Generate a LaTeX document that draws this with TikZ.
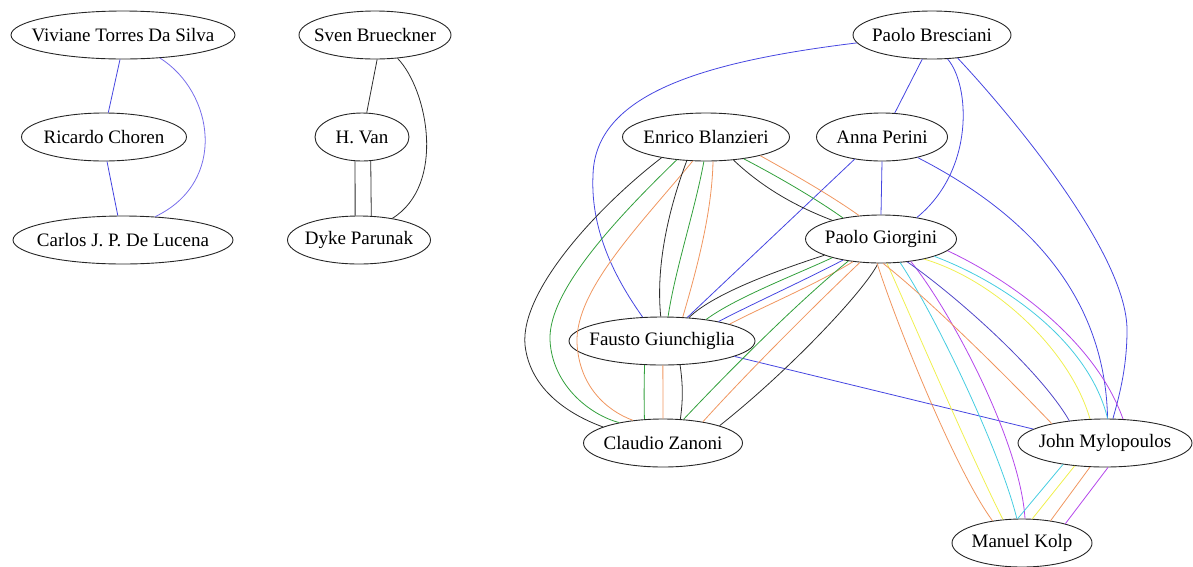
\documentclass[tikz,border=0pt]{standalone}
\usepackage{fontspec}
\setmainfont{Liberation Serif}
\usetikzlibrary{shapes.geometric}
\definecolor{cb}{RGB}{70,70,225}
\definecolor{cbl}{RGB}{120,110,235}
\definecolor{cg}{RGB}{50,160,60}
\definecolor{co}{RGB}{240,150,95}
\definecolor{cy}{RGB}{240,240,80}
\definecolor{cc}{RGB}{70,205,225}
\definecolor{cp}{RGB}{180,70,235}
\definecolor{ci}{RGB}{80,70,200}
\definecolor{ck}{RGB}{45,45,45}
\newcommand{\pname}[1]{\makebox[0pt][c]{#1}}
\tikzset{
  person/.style={draw=black!85, ellipse, line width=0.9pt, inner sep=0pt,
    minimum height=48pt, font=\fontsize{19}{22}\selectfont},
  lnk/.style={line width=0.8pt, draw=ck},
  lnb/.style={line width=0.8pt, draw=cb},
  lnbl/.style={line width=0.8pt, draw=cbl},
  lng/.style={line width=0.8pt, draw=cg},
  lno/.style={line width=0.8pt, draw=co},
  lny/.style={line width=0.8pt, draw=cy},
  lnc/.style={line width=0.8pt, draw=cc},
  lnp/.style={line width=0.8pt, draw=cp},
  lni/.style={line width=0.8pt, draw=ci},
}
\begin{document}
\begin{tikzpicture}[x=1pt,y=-1pt]
\useasboundingbox (0,0) rectangle (1193,566);
% nodes
\node[person, minimum width=224pt] (viv) at (123,35) {\pname{Viviane Torres Da Silva}};
\node[person, minimum width=165pt] (ric) at (104,137) {\pname{Ricardo Choren}};
\node[person, minimum width=220pt] (car) at (123,240) {\pname{Carlos J. P. De Lucena}};
\node[person, minimum width=152pt] (sve) at (375,35) {\pname{Sven Brueckner}};
\node[person, minimum width=94pt] (van) at (362,137) {\pname{H. Van}};
\node[person, minimum width=143pt] (dyk) at (359,240) {\pname{Dyke Parunak}};
\node[person, minimum width=158pt] (bre) at (932,35) {\pname{Paolo Bresciani}};
\node[person, minimum width=167pt] (enr) at (706,137) {\pname{Enrico Blanzieri}};
\node[person, minimum width=131pt] (ann) at (882,137) {\pname{Anna Perini}};
\node[person, minimum width=151pt] (gio) at (881,239) {\pname{Paolo Giorgini}};
\node[person, minimum width=186pt] (fau) at (662,341) {\pname{Fausto Giunchiglia}};
\node[person, minimum width=159pt] (cla) at (663,443) {\pname{Claudio Zanoni}};
\node[person, minimum width=174pt] (joh) at (1105,443) {\pname{John Mylopoulos}};
\node[person, minimum width=140pt] (kol) at (1022,543) {\pname{Manuel Kolp}};
% left cluster
\draw[lnb] (viv.-97) -- (ric.80);
\draw[lnb] (ric.-83) -- (car.102);
\draw[lnbl] (viv.-32) .. controls (214,92) and (228,182) .. (car.36);
% middle cluster
\draw[lnk] (sve.-85) -- (van.79);
\draw[lnk] (van.-106) -- (dyk.99);
\draw[lnk] (van.-70) -- (dyk.63);
\draw[lnk] (sve.-46) .. controls (428,90) and (446,185) .. (dyk.33);
% Bresciani
\draw[lnb] (bre.-174) .. controls (700,62) and (595,95) .. (593,175) .. controls (590,235) and (620,285) .. (fau.129);
\draw[lnb] (bre.-112) -- (ann.62);
\draw[lnb] (bre.-57) .. controls (970,85) and (975,170) .. (gio.31);
\draw[lnb] (bre.-42) .. controls (1000,103) and (1127,250) .. (1127,330) .. controls (1127,370) and (1118,400) .. (joh.72);
% Anna
\draw[lnb] (ann.south) -- (gio.north);
\draw[lnb] (ann.-141) -- (fau.43);
\draw[lnb] (ann.-30) .. controls (1020,210) and (1105,290) .. (joh.84);
% Fausto - John
\draw[lnb] (fau.-12) -- (joh.169);
% Enrico - Claudio
\draw[lnk] (enr.-155) .. controls (600,205) and (520,290) .. (525,345) .. controls (530,390) and (570,415) .. (cla.165);
\draw[lng] (enr.-142) .. controls (620,215) and (548,290) .. (550,340) .. controls (552,385) and (590,415) .. (cla.155);
\draw[lno] (enr.-119) .. controls (640,225) and (575,290) .. (577,343) .. controls (579,385) and (605,410) .. (cla.143);
% Enrico - Fausto
\draw[lnk] (enr.-129) .. controls (672,200) and (655,260) .. (fau.93);
\draw[lng] (enr.-95) .. controls (695,210) and (675,270) .. (fau.76);
\draw[lno] (enr.-74) .. controls (712,215) and (695,275) .. (fau.49);
% Enrico - Giorgini
\draw[lnk] (enr.-40) .. controls (765,190) and (800,208) .. (gio.159);
\draw[lng] (enr.-30) .. controls (775,175) and (815,198) .. (gio.151);
\draw[lno] (enr.-19) .. controls (795,175) and (830,195) .. (gio.133);
% Giorgini - Fausto
\draw[lnk] (gio.-164) .. controls (785,268) and (715,292) .. (fau.41);
\draw[lng] (gio.-159) .. controls (795,275) and (735,298) .. (fau.26);
\draw[lnb] (gio.-151) .. controls (805,280) and (750,305) .. (fau.19);
\draw[lno] (gio.-141) .. controls (815,285) and (760,308) .. (fau.14);
% Fausto - Claudio
\draw[lng] (fau.-126) .. controls (644,385) and (644,400) .. (cla.128);
\draw[lno] (fau.-88) -- (cla.90);
\draw[lnk] (fau.-53) .. controls (683,385) and (683,400) .. (cla.54);
% Giorgini - Claudio
\draw[lng] (gio.-146) .. controls (800,300) and (730,370) .. (cla.49);
\draw[lno] (gio.-132) .. controls (815,305) and (745,375) .. (cla.28);
\draw[lnk] (gio.-97) .. controls (865,290) and (790,370) .. (cla.17);
% Giorgini - Kolp
\draw[lno] (gio.-99) .. controls (895,320) and (955,470) .. (kol.143);
\draw[lny] (gio.-76) .. controls (910,315) and (975,465) .. (kol.129);
\draw[lnc] (gio.-51) .. controls (935,315) and (1000,450) .. (kol.102);
\draw[lnp] (gio.-37) .. controls (950,310) and (1020,440) .. (kol.83);
% Giorgini - John
\draw[lno] (gio.-85) .. controls (930,300) and (1010,380) .. (joh.160);
\draw[lni] (gio.-41) .. controls (955,295) and (1040,370) .. (joh.148);
\draw[lny] (gio.-25) .. controls (995,280) and (1070,350) .. (joh.122);
\draw[lnc] (gio.-18) .. controls (1010,285) and (1090,345) .. (joh.84);
\draw[lnp] (gio.-10) .. controls (1010,280) and (1095,340) .. (joh.53);
% John - Kolp
\draw[lnc] (joh.-153) -- (kol.100);
\draw[lny] (joh.-143) -- (kol.67);
\draw[lno] (joh.-122) -- (kol.38);
\draw[lnp] (joh.-83) -- (kol.24);
\end{tikzpicture}
\end{document}
